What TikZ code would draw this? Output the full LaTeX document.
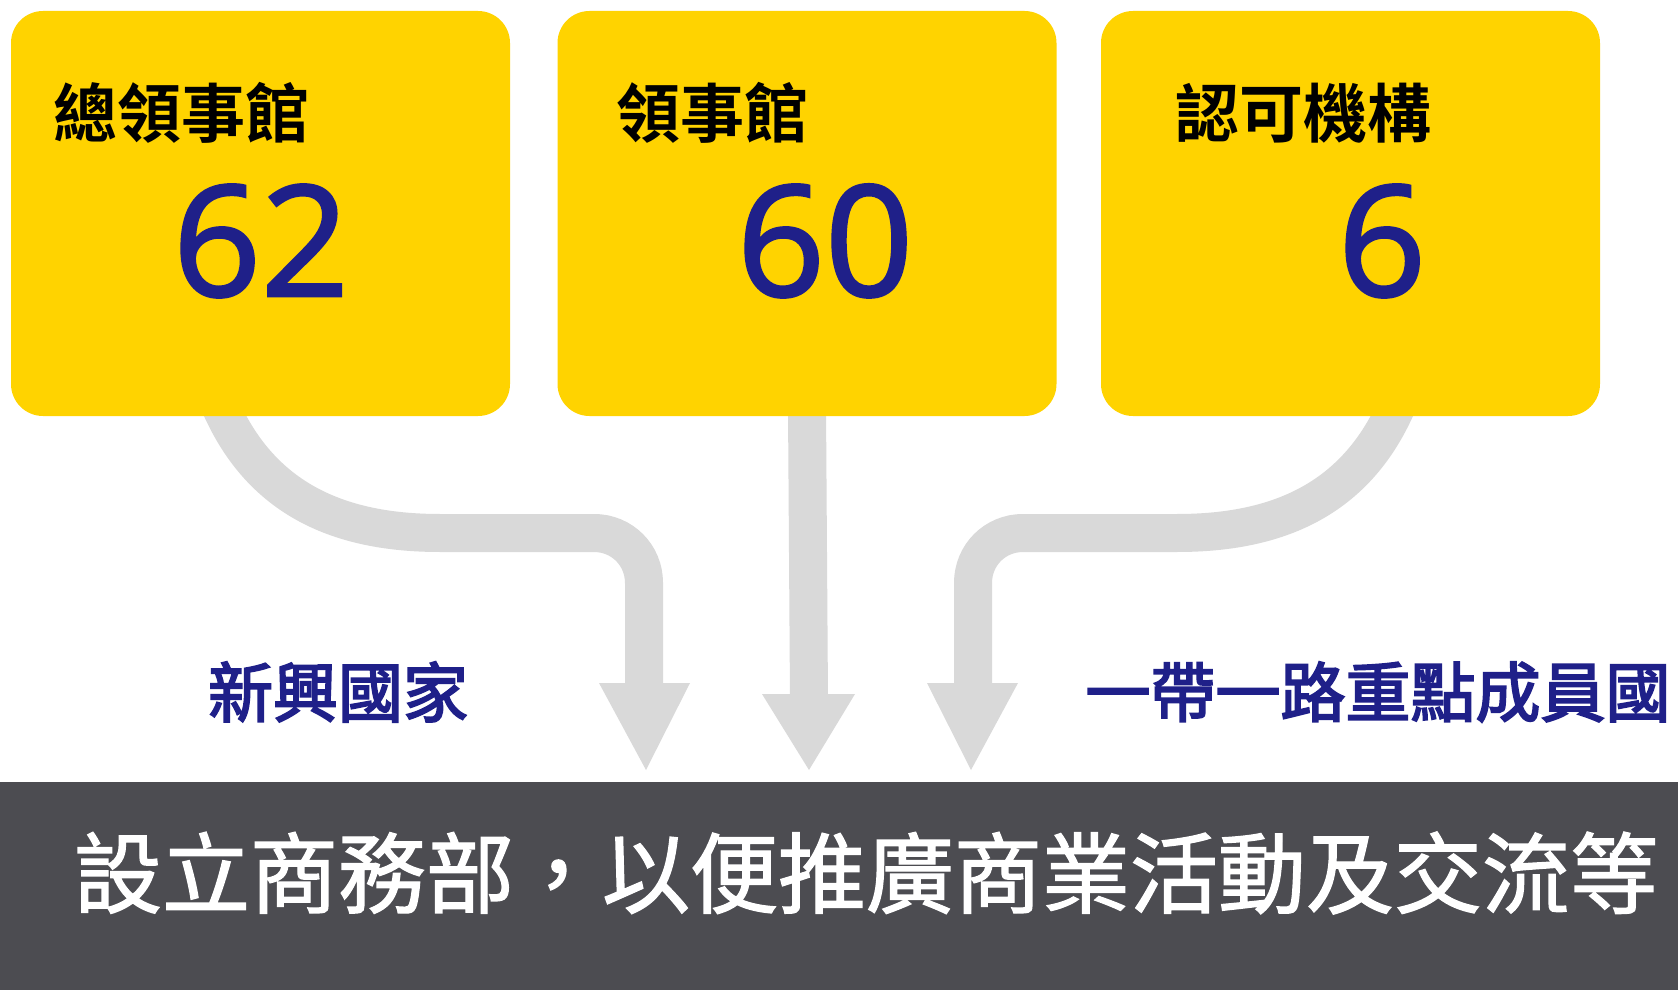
\documentclass[tikz,border=0pt]{standalone}
\usepackage{fontspec}
\usetikzlibrary{backgrounds,calc}
\newfontfamily\cjk{Noto Sans CJK TC}[BoldFont={Noto Sans CJK TC Bold}]
\newfontfamily\cjkmed{Noto Sans CJK TC}[FakeBold=1.5]
\newfontfamily\cjklab{Noto Sans CJK TC}[FakeBold=3]
\newfontfamily\numf{Open Sans}[FakeBold=1.8]
\definecolor{ybox}{HTML}{FFD300}
\definecolor{agray}{HTML}{D9D9D9}
\definecolor{dband}{HTML}{4C4C51}
\definecolor{nblue}{HTML}{1F2089}
\begin{document}
\begin{tikzpicture}[x=0.5pt,y=-0.5pt,
  card/.style={fill=ybox, rounded corners=16pt, minimum width=249.5pt, minimum height=202.5pt, inner sep=0pt},
  bandline/.style={draw=agray, line width=19pt},
  headtri/.style={fill=agray},
  title/.style={font=\cjk\bfseries\fontsize{32pt}{36pt}\selectfont, text=black, inner sep=0pt},
  num/.style={font=\numf\fontsize{77pt}{88pt}\selectfont, text=nblue, inner sep=0pt, anchor=base},
  lab/.style={font=\cjklab\fontsize{32.5pt}{36pt}\selectfont, text=nblue, inner sep=0pt},
  foot/.style={font=\cjkmed\fontsize{44pt}{48pt}\selectfont, text=white, inner sep=0pt}]
\useasboundingbox (0,0) rectangle (1678,990);
% cards
\node[card] (b1) at (260.5,213.5) {};
\node[card] (b2) at (807,213.5) {};
\node[card] (b3) at (1350.5,213.5) {};
\node[title] (h1) at (182,113) {總領事館};
\node[title] (h2) at (712,113) {領事館};
\node[title] (h3) at (1303,113) {認可機構};
\node[num] (n1) at (261,296) {62};
\node[num] (n2) at (825,296) {60};
\node[num] (n3) at (1382,296) {6};
% bottom band
\node[fill=dband, minimum width=839pt, minimum height=104pt, inner sep=0pt] (band) at (839,886) {};
\node[foot] (ft) at (866,873) {設立商務部，以便推廣商業活動及交流等};
% labels
\node[lab] (l1) at (338,692) {新興國家};
\node[lab] (l2) at (1378,692) {一帶一路重點成員國};
% arrow tips
\coordinate (t1) at (646,770);
\coordinate (t2) at (809,770);
\coordinate (t3) at (971,770);
\begin{scope}[on background layer]
\fill[white] (0,0) rectangle (1678,990);
\draw[bandline] ($(b1.south)+(-40,-10)$) .. controls (262,500) and (340,533) .. (440,533)
  -- (594,533) .. controls (622,533) and (644,555) .. (644,583) -- ($(t1)+(-2,-80)$);
\fill[headtri] ($(t1)+(-47,-87)$) -- ($(t1)+(44,-87)$) -- (t1) -- cycle;
\draw[bandline] ($(b2.south)+(0,-10)$) -- ($(t2)+(0,-70)$);
\fill[headtri] ($(t2)+(-47,-76)$) -- ($(t2)+(46,-76)$) -- (t2) -- cycle;
\draw[bandline] ($(b3.south)+(46,-10)$) .. controls (1355,500) and (1277,533) .. (1177,533)
  -- (1023,533) .. controls (995,533) and (973,555) .. (973,583) -- ($(t3)+(2,-80)$);
\fill[headtri] ($(t3)+(-44,-87)$) -- ($(t3)+(47,-87)$) -- (t3) -- cycle;
\end{scope}
\end{tikzpicture}
\end{document}
